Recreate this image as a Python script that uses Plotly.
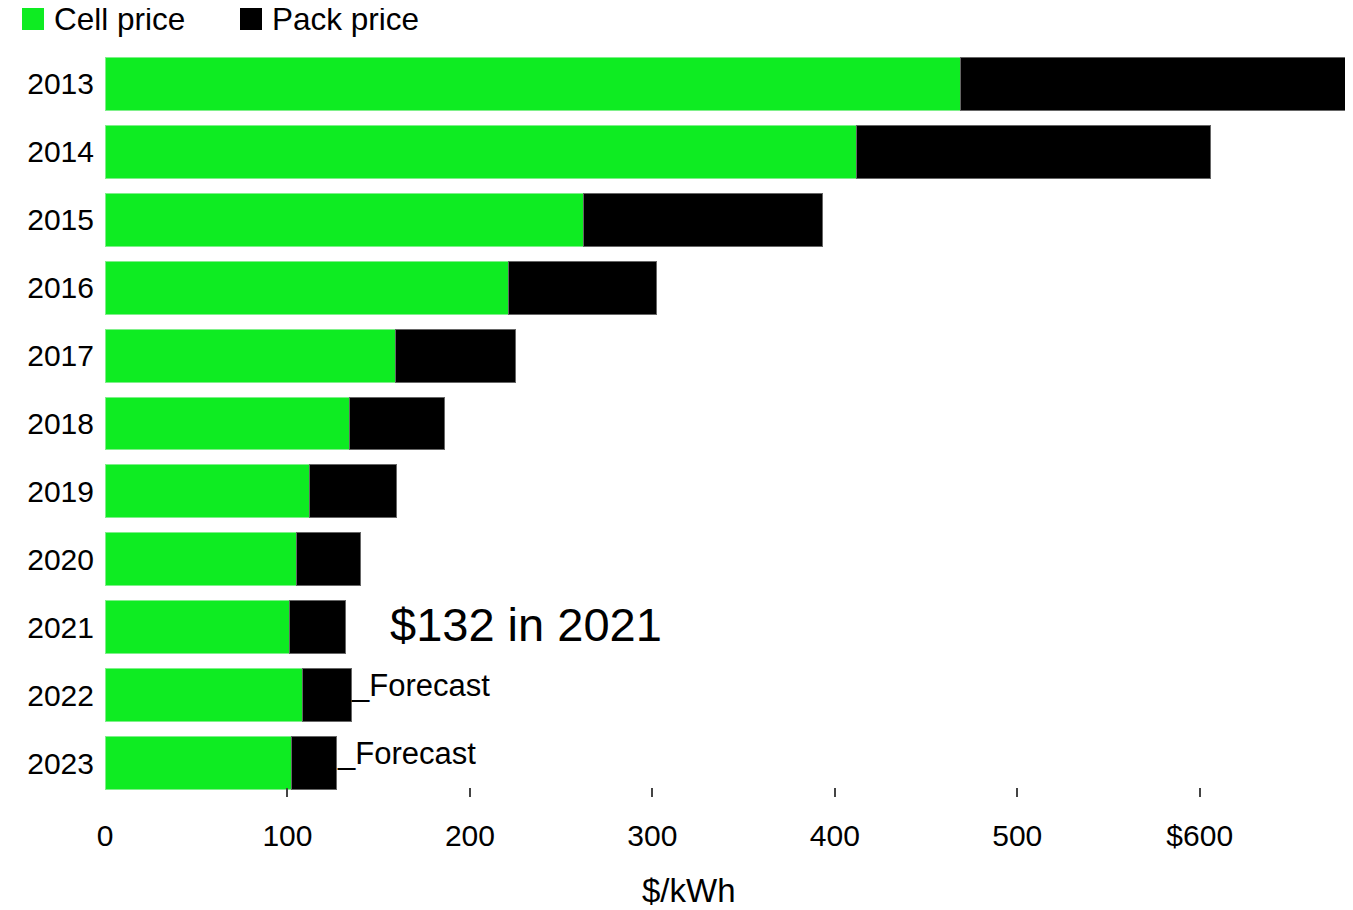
import plotly.graph_objects as go

years = ["2013", "2014", "2015", "2016", "2017", "2018", "2019", "2020", "2021", "2022", "2023"]
cell_price = [469, 412, 262, 221, 159, 134, 112, 105, 101, 108, 102]
pack_price = [684, 606, 393, 302, 225, 186, 160, 140, 132, 135, 127]
forecast_years = ["2022", "2023"]
x_ticks = [0, 100, 200, 300, 400, 500, 600]
x_tick_text = ["0", "100", "200", "300", "400", "500", "$600"]

GREEN = "#0eec22"
FONT = "Liberation Sans, Arial, Helvetica, sans-serif"

pack_extra = [p - c for p, c in zip(pack_price, cell_price)]

fig = go.Figure()
fig.add_trace(go.Bar(
    y=years, x=cell_price, orientation="h", name="Cell price",
    marker=dict(color=GREEN, line=dict(color="#7ff08a", width=1)),
))
fig.add_trace(go.Bar(
    y=years, x=pack_extra, orientation="h", name="Pack price",
    marker=dict(color="#000000", line=dict(color="#666666", width=1)),
))

annotations = []
annotations.append(dict(
    x=155, y=years.index("2021"), xref="x", yref="y", xanchor="left", yanchor="middle",
    text="$132 in 2021", showarrow=False, yshift=3,
    font=dict(size=47, color="#000", family=FONT),
))
for yr in forecast_years:
    i = years.index(yr)
    annotations.append(dict(
        x=pack_price[i], y=i, xref="x", yref="y", xanchor="left", yanchor="middle",
        text="_Forecast", showarrow=False, yshift=10, xshift=-2,
        font=dict(size=31, color="#000", family=FONT),
    ))
# axis title
annotations.append(dict(
    x=0.468, y=0, xref="paper", yref="paper", xanchor="center", yanchor="top",
    yshift=-73, text="$/kWh", showarrow=False, font=dict(size=33, color="#000", family=FONT),
))
# custom legend
legend_items = [("Cell price", GREEN, 22), ("Pack price", "#000000", 240)]
shapes = []
for name, col, px in legend_items:
    shapes.append(dict(
        type="rect", xref="paper", yref="paper",
        x0=(px - 105) / 1248, x1=(px + 22 - 105) / 1248,
        y0=(797 - 30) / 747, y1=(797 - 8) / 747,
        fillcolor=col, line=dict(width=0),
    ))
    annotations.append(dict(
        x=(px + 30 - 105) / 1248, y=(797 - 19) / 747, xref="paper", yref="paper",
        xanchor="left", yanchor="middle", text=name, showarrow=False,
        font=dict(size=31.5, color="#000", family=FONT),
    ))

fig.update_layout(
    barmode="stack",
    bargap=0.22,
    width=1345, height=902,
    margin=dict(l=97, r=0, t=42, b=113, autoexpand=False),
    paper_bgcolor="white", plot_bgcolor="white",
    showlegend=False,
    font=dict(family=FONT, size=30, color="#000"),
    xaxis=dict(
        range=[0, 684], tickvals=x_ticks, ticktext=x_tick_text,
        ticks="inside", ticklen=9, tickcolor="#444", tickwidth=1.5,
        showgrid=False, zeroline=False, showline=False,
        tickfont=dict(size=30, color="#000", family=FONT),
        ticklabelstandoff=18, automargin=False,
    ),
    yaxis=dict(
        type="category",
        categoryorder="array", categoryarray=years,
        range=[len(years) - 0.5, -0.5], autorange=False,
        showgrid=False, zeroline=False, showline=False, ticks="",
        tickfont=dict(size=30, color="#000", family=FONT),
        ticklabelstandoff=10, automargin=False,
    ),
    annotations=annotations,
    shapes=shapes,
)

fig.write_html("out.html", default_width="1345px", default_height="902px")
